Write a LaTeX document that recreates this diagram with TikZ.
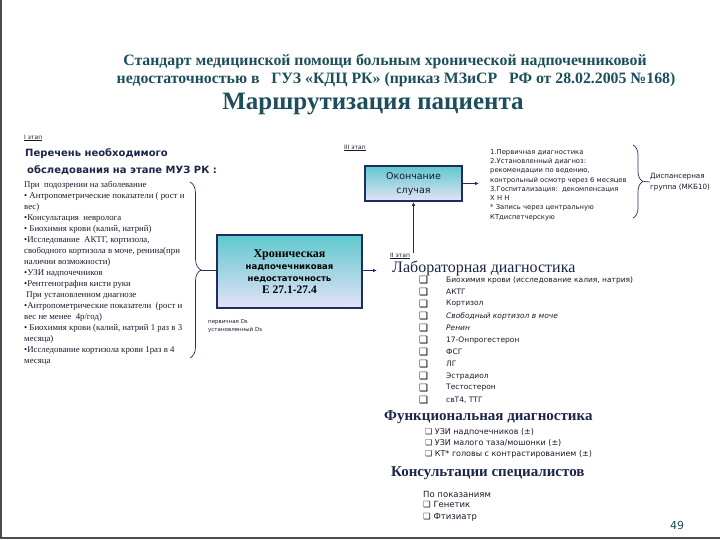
\documentclass[tikz,border=0pt]{standalone}
\usepackage{fontspec}
\setmainfont{Liberation Serif}
\setsansfont{DejaVu Sans}
\usetikzlibrary{arrows.meta,decorations.pathreplacing}

\definecolor{titleteal}{RGB}{28,78,92}
\definecolor{headnavy}{RGB}{28,36,72}
\definecolor{linenavy}{RGB}{30,45,95}
\definecolor{textdark}{RGB}{25,25,45}
\definecolor{boxtop}{RGB}{95,200,205}
\definecolor{boxbottom}{RGB}{228,226,248}

\begin{document}
\begin{tikzpicture}[x=1pt,y=-1pt,
    txt/.style={anchor=west,inner sep=0pt,text=textdark},
    stagelbl/.style={anchor=west,inner sep=0pt,text=textdark,font=\sffamily\fontsize{6}{7}\selectfont},
    gradbox/.style={draw=linenavy,line width=1.6pt,top color=boxtop,bottom color=boxbottom,inner sep=0pt,align=center},
    arr/.style={draw=linenavy,line width=0.9pt,-{Latex[length=4pt,width=3.5pt]}},
    conn/.style={draw=linenavy,line width=0.9pt},
    brc/.style={draw=linenavy,line width=0.7pt,decorate,decoration={brace,amplitude=11pt}},
    chk/.style={anchor=west,inner sep=0pt,text=textdark,font=\sffamily\fontsize{7.5}{9}\selectfont},
    chkbox/.style={anchor=west,inner sep=0pt,text=black,font=\sffamily\bfseries\fontsize{10}{10}\selectfont}]

      \useasboundingbox (0,0) rectangle (720,540);

      % Slide frame
      \draw[gray!60!black,line width=2pt] (1,0) -- (1,538) -- (720,538);

      % Title
      \node[font=\bfseries\fontsize{15.8}{17}\selectfont,text=titleteal] (title1) at (385,62)
        {Стандарт медицинской помощи больным хронической надпочечниковой};
      \node[font=\bfseries\fontsize{15.8}{17}\selectfont,text=titleteal] (title2) at (396,80)
        {недостаточностью в\ \ \ ГУЗ «КДЦ РК» (приказ МЗиСР\ \ \ РФ от 28.02.2005 №168)};
      \node[font=\bfseries\fontsize{25}{27}\selectfont,text=titleteal] (title3) at (373,104)
        {Маршрутизация пациента};

      % ==== I stage ====
      \node[stagelbl] (stage1) at (24,138) {\underline{I этап}};
      \node[txt,text=headnavy,font=\sffamily\bfseries\fontsize{10}{12}\selectfont] (listhead1) at (25,154)
        {Перечень необходимого};
      \node[txt,text=headnavy,font=\sffamily\bfseries\fontsize{10}{12}\selectfont] (listhead2) at (27,170)
        {обследования на этапе МУЗ РК :};

      \node[txt,anchor=north west,align=left,font=\fontsize{8.8}{11}\selectfont] (leftlist) at (24,181)
        {При\ \ подозрении на заболевание\\
         • Антропометрические показатели ( рост и\\
         вес)\\
         •Консультация\ \ невролога\\
         • Биохимия крови (калий, натрий)\\
         •Исследование\ \ АКТГ, кортизола,\\
         свободного кортизола в моче, ренина(при\\
         наличии возможности)\\
         •УЗИ надпочечников\\
         •Рентгенография кисти руки\\
         \ При установленном диагнозе\\
         •Антропометрические показатели\ \ (рост и\\
         вес не менее\ \ 4р/год)\\
         • Биохимия крови (калий, натрий 1 раз в 3\\
         месяца)\\
         •Исследование кортизола крови 1раз в 4\\
         месяца};

      \coordinate (lbtop) at (190,182);
      \coordinate (lbbot) at (190,358);
      \coordinate (lbtip) at (201,270);
      \draw[brc] (lbtop) -- (lbbot);

      % Diagnosis box
      \node[gradbox,minimum width=145,minimum height=73] (chron) at (289.5,271.5)
        {{\bfseries\fontsize{12}{16.5}\selectfont Хроническая}\\
         {\sffamily\bfseries\fontsize{8.5}{16.5}\selectfont надпочечниковая}\\
         {\sffamily\bfseries\fontsize{8.5}{16.5}\selectfont недостаточность}\\
         {\bfseries\fontsize{11.5}{16.5}\selectfont Е 27.1-27.4}};
      \draw[conn] (lbtip) -- (chron.west |- lbtip);

      \node[txt,align=left,font=\sffamily\fontsize{5.5}{8}\selectfont] (dsnote) at (208,326)
        {первичная Ds\\установленный Ds};

      % ==== III stage ====
      \node[stagelbl] (stage3) at (344,148) {\underline{III этап}};
      \node[gradbox,minimum width=97,minimum height=35,text=textdark,
            font=\sffamily\fontsize{9.5}{14}\selectfont] (endcase) at (413.5,183.5)
        {Окончание\\случая};
      \coordinate (endout) at (479,183.5);
      \draw[arr] (endcase.east) -- (endout);

      \node[txt,anchor=north west,align=left,font=\sffamily\fontsize{6.8}{9.3}\selectfont] (endlist) at (490,149)
        {1.Первичная диагностика\\
         2.Установленный диагноз:\\
         рекомендации по ведению,\\
         контрольный осмотр через 6 месяцев\\
         3.Госпитализация:\ \ декомпенсация\\
         Х Н Н\\
         * Запись через центральную\\
         КТдиспетчерскую};
      \coordinate (rbtop) at (633,145);
      \coordinate (rbbot) at (633,218);
      \coordinate (rbtip) at (644,181.5);
      \draw[brc,decoration={brace,amplitude=10pt}] (rbtop) -- (rbbot);
      \node[txt,align=left,font=\sffamily\fontsize{7.2}{11}\selectfont] (disp) at (650,182)
        {Диспансерная\\группа (МКБ10)};
      \draw[conn,line width=0.7pt] (rbtip) -- (disp.west);

      % ==== II stage ====
      \node[stagelbl] (stage2) at (390,256) {\underline{II этап}};
      \draw[arr] (endcase.south |- stage2.north) -- (endcase.south);

      \coordinate (labin) at (377,270.5);
      \draw[arr] (chron.east |- labin) -- (labin);
      \node[txt,text=headnavy,font=\fontsize{16}{18}\selectfont] (labhead) at (392,268)
        {Лабораторная диагностика};

      \foreach \item [count=\i] in {{Биохимия крови (исследование калия, натрия)},АКТГ,Кортизол,
          {\itshape Свободный кортизол в моче},{\itshape Ренин},17-Онпрогестерон,ФСГ,ЛГ,
          Эстрадиол,Тестостерон,{свТ4, ТТГ}}{
        \node[chkbox] (labbox\i) at (419,{280+12*(\i-1)}) {❑};
        \node[chk] (lab\i) at (446,{280+12*(\i-1)}) {\item};
      }

      % Functional diagnostics
      \node[txt,text=headnavy,font=\bfseries\fontsize{15}{17}\selectfont] (funchead) at (384,417)
        {Функциональная диагностика};
      \node[chk,font=\sffamily\fontsize{8}{9}\selectfont] (func1) at (425,432) {❑ УЗИ надпочечников (±)};
      \node[chk,font=\sffamily\fontsize{8}{9}\selectfont] (func2) at (425,443) {❑ УЗИ малого таза/мошонки (±)};
      \node[chk,font=\sffamily\fontsize{8}{9}\selectfont] (func3) at (425,454) {❑ КТ* головы с контрастированием (±)};

      % Specialist consultations
      \node[txt,text=headnavy,font=\bfseries\fontsize{15}{17}\selectfont] (conshead) at (391,473)
        {Консультации специалистов};
      \node[chk,font=\sffamily\fontsize{8.5}{9}\selectfont] (cons0) at (423,494) {По показаниям};
      \node[chk,font=\sffamily\fontsize{8.5}{9}\selectfont] (cons1) at (423,505) {❑ Генетик};
      \node[chk,font=\sffamily\fontsize{8.5}{9}\selectfont] (cons2) at (423,517) {❑ Фтизиатр};

      % Page number
      \node[font=\sffamily\fontsize{11}{12}\selectfont,text=titleteal] (pagenum) at (677,525) {49};

\end{tikzpicture}
\end{document}
